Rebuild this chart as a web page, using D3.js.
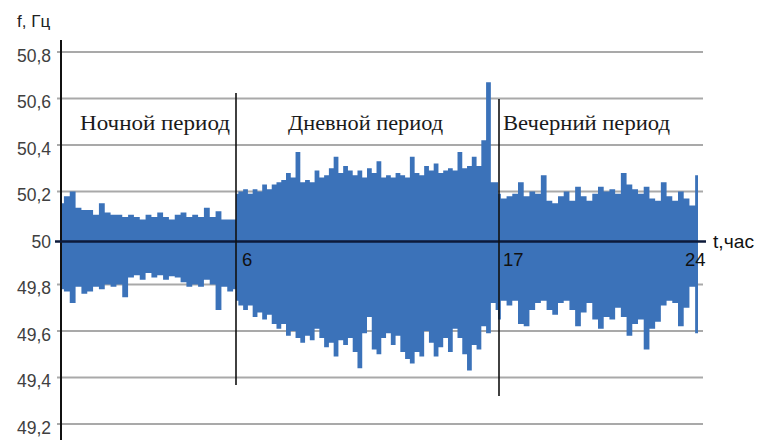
<!DOCTYPE html>
<html>
<head>
<meta charset="utf-8">
<script src="https://cdn.jsdelivr.net/npm/d3@7"></script>
<style>
  html, body { margin: 0; padding: 0; background: #fff; }
  svg { display: block; }
</style>
</head>
<body>
<svg id="chart" width="769" height="440"></svg>
<script>
// Frequency axis ticks
const yTickValues = [49.2, 49.4, 49.6, 49.8, 50, 50.2, 50.4, 50.6, 50.8];
const yTickLabels = ["49,2", "49,4", "49,6", "49,8", "50", "50,2", "50,4", "50,6", "50,8"];

// Hour marks on the time axis (period boundaries)
const hourMarks = [6, 17, 24];
const hourLabels = ["6", "17", "24"];

// Periods of the day
const periodNames = ["Ночной период", "Дневной период", "Вечерний период"];
const periodStart = [0, 6, 17];
const sampleStep = 0.2; // hours between envelope samples

// Night (0–6 h): upper / lower envelope of f, Hz
const nightHigh = [50.15, 50.18, 50.20, 50.13, 50.12, 50.12, 50.10, 50.15, 50.11, 50.10, 50.10,
  50.09, 50.10, 50.09, 50.08, 50.10, 50.09, 50.11, 50.09, 50.08, 50.10, 50.11, 50.09, 50.10,
  50.09, 50.13, 50.09, 50.115, 50.08, 50.08, 50.08];
const nightLow = [49.78, 49.77, 49.72, 49.79, 49.76, 49.77, 49.79, 49.78, 49.80, 49.79, 49.80,
  49.745, 49.83, 49.84, 49.82, 49.85, 49.83, 49.84, 49.82, 49.835, 49.83, 49.81, 49.79, 49.80,
  49.79, 49.82, 49.80, 49.69, 49.79, 49.77, 49.78];

// Day (6–17 h)
const dayHigh = [50.19, 50.20, 50.21, 50.19, 50.21, 50.20, 50.23, 50.21, 50.23, 50.24, 50.25,
  50.28, 50.26, 50.37, 50.24, 50.25, 50.24, 50.29, 50.26, 50.27, 50.30, 50.35, 50.28, 50.31,
  50.29, 50.27, 50.29, 50.26, 50.30, 50.28, 50.33, 50.26, 50.27, 50.26, 50.28, 50.27, 50.26,
  50.35, 50.28, 50.27, 50.31, 50.29, 50.32, 50.28, 50.29, 50.30, 50.29, 50.37, 50.30, 50.31,
  50.35, 50.31, 50.42, 50.67, 50.24, 50.24];
const dayLow = [49.73, 49.71, 49.69, 49.71, 49.66, 49.68, 49.65, 49.67, 49.63, 49.61, 49.63,
  49.58, 49.60, 49.57, 49.55, 49.58, 49.56, 49.61, 49.57, 49.53, 49.55, 49.49, 49.56, 49.54,
  49.57, 49.51, 49.44, 49.59, 49.66, 49.52, 49.50, 49.57, 49.59, 49.54, 49.58, 49.51, 49.48,
  49.46, 49.51, 49.49, 49.60, 49.55, 49.49, 49.53, 49.57, 49.51, 49.61, 49.57, 49.50, 49.43,
  49.54, 49.52, 49.62, 49.59, 49.72, 49.69];

// Evening (17–24 h)
const eveningHigh = [50.19, 50.17, 50.18, 50.19, 50.24, 50.18, 50.20, 50.19, 50.27, 50.16, 50.15,
  50.18, 50.20, 50.16, 50.22, 50.18, 50.16, 50.19, 50.22, 50.20, 50.21, 50.19, 50.28, 50.23,
  50.21, 50.19, 50.22, 50.17, 50.16, 50.24, 50.18, 50.16, 50.20, 50.17, 50.14, 50.27];
const eveningLow = [49.65, 49.73, 49.71, 49.73, 49.63, 49.62, 49.69, 49.72, 49.73, 49.69, 49.67,
  49.72, 49.73, 49.69, 49.62, 49.68, 49.72, 49.65, 49.61, 49.66, 49.65, 49.70, 49.66, 49.58,
  49.63, 49.65, 49.52, 49.61, 49.64, 49.71, 49.73, 49.72, 49.62, 49.70, 49.79, 49.59];

const highs = [nightHigh, dayHigh, eveningHigh];
const lows = [nightLow, dayLow, eveningLow];

// ---- layout ----
const svg = d3.select("#chart");
const x = d3.scaleLinear().domain([0, 6, 17, 24]).range([61, 236, 498, 698]);
const y = d3.scaleLinear().domain([49.2, 50.8]).range([424, 52]);
const axisShift = 3.5;          // the time axis sits slightly below the 50 grid level
const gridRight = 703;

// horizontal grid lines
svg.append("g").selectAll("line")
  .data(yTickValues.filter(v => v !== 50))
  .join("line")
  .attr("x1", x(0) - 4).attr("x2", gridRight)
  .attr("y1", d => y(d)).attr("y2", d => y(d))
  .attr("stroke", "#a9a9a9").attr("stroke-width", 2);

// frequency band, one area per period
const area = d3.area()
  .x(d => x(d.t))
  .y0(d => y(d.lo))
  .y1(d => y(d.hi))
  .curve(d3.curveStep);

periodStart.forEach((t0, p) => {
  const pts = highs[p].map((hi, i) => ({ t: t0 + i * sampleStep, hi, lo: lows[p][i] }));
  svg.append("path")
    .datum(pts)
    .attr("d", area)
    .attr("fill", "#3b72b9");
});

// y axis line
svg.append("line")
  .attr("x1", x(0)).attr("x2", x(0))
  .attr("y1", 40).attr("y2", 440)
  .attr("stroke", "#111").attr("stroke-width", 2);

// y tick labels
svg.append("g").selectAll("text")
  .data(yTickValues)
  .join("text")
  .attr("x", 51)
  .attr("y", d => y(d) + axisShift)
  .attr("dy", "0.36em")
  .attr("text-anchor", "end")
  .attr("font-family", "Liberation Sans, Arial, sans-serif")
  .attr("font-size", 17.5)
  .attr("fill", "#404040")
  .text((d, i) => yTickLabels[i]);

// time axis at 50 Hz
const y50 = y(50) + axisShift;
svg.append("line")
  .attr("x1", x(0) - 6).attr("x2", 706)
  .attr("y1", y50).attr("y2", y50)
  .attr("stroke", "#0d1a3a").attr("stroke-width", 2.5);

svg.append("text")
  .attr("x", 713).attr("y", y50 + 6)
  .attr("font-family", "Liberation Sans, Arial, sans-serif")
  .attr("font-size", 19)
  .attr("fill", "#111")
  .attr("textLength", 41).attr("lengthAdjust", "spacingAndGlyphs")
  .text("t,час");

// period boundary lines
const boundaryTop = [93, 99];
[6, 17].forEach((h, i) => {
  svg.append("line")
    .attr("x1", x(h) + i).attr("x2", x(h) + i)
    .attr("y1", boundaryTop[i]).attr("y2", i === 0 ? 385 : 396)
    .attr("stroke", "#111").attr("stroke-width", 1.6);
});

// hour labels
const hourLabelDx = [6, 5, -13];
svg.append("g").selectAll("text")
  .data(hourMarks)
  .join("text")
  .attr("x", (d, i) => x(d) + hourLabelDx[i])
  .attr("y", y50 + 24)
  .attr("font-family", "Liberation Sans, Arial, sans-serif")
  .attr("font-size", 18.5)
  .attr("fill", "#111")
  .text((d, i) => hourLabels[i]);

// period titles
const titleX = [80, 288, 503];
const titleW = [150, 155, 167];
svg.append("g").selectAll("text")
  .data(periodNames)
  .join("text")
  .attr("x", (d, i) => titleX[i])
  .attr("y", 130)
  .attr("font-family", "Liberation Serif, Times New Roman, serif")
  .attr("font-size", 22)
  .attr("fill", "#1a1a1a")
  .attr("textLength", (d, i) => titleW[i])
  .attr("lengthAdjust", "spacingAndGlyphs")
  .text(d => d);

// y axis title
svg.append("text")
  .attr("x", 17).attr("y", 27)
  .attr("font-family", "Liberation Sans, Arial, sans-serif")
  .attr("font-size", 17)
  .attr("fill", "#222")
  .text("f, Гц");
</script>
</body>
</html>
